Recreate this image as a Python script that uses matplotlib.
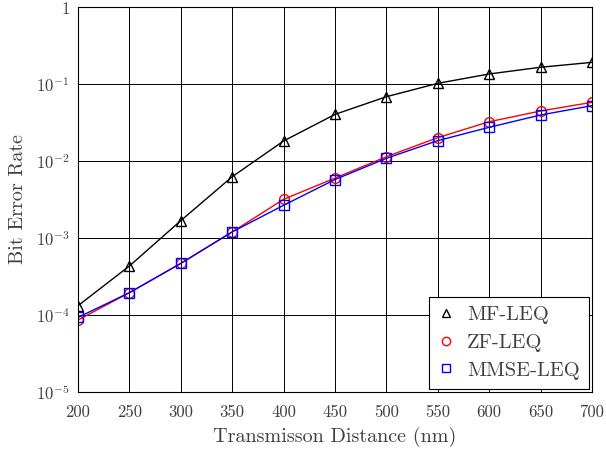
import matplotlib
matplotlib.use("Agg")
import matplotlib.pyplot as plt

plt.rcParams['font.family'] = 'serif'
plt.rcParams['font.serif'] = ['cmr10', 'DejaVu Serif']
plt.rcParams['mathtext.fontset'] = 'cm'
plt.rcParams['axes.formatter.use_mathtext'] = True
plt.rcParams['axes.unicode_minus'] = False

distance = [200, 250, 300, 350, 400, 450, 500, 550, 600, 650, 700]
mf_leq = [1.32e-4, 4.33e-4, 1.68e-3, 6.25e-3, 1.82e-2, 4.03e-2, 6.84e-2, 0.102, 0.135, 0.165, 0.191]
zf_leq = [8.6e-5, 1.95e-4, 4.68e-4, 1.2e-3, 3.18e-3, 6.0e-3, 1.138e-2, 2.01e-2, 3.24e-2, 4.46e-2, 5.78e-2]
mmse_leq = [9.3e-5, 1.95e-4, 4.68e-4, 1.2e-3, 2.66e-3, 5.75e-3, 1.083e-2, 1.84e-2, 2.74e-2, 3.96e-2, 5.23e-2]
xticks = [200, 250, 300, 350, 400, 450, 500, 550, 600, 650, 700]
yticks = [1e-5, 1e-4, 1e-3, 1e-2, 1e-1, 1]
ytick_labels = [r'$10^{-5}$', r'$10^{-4}$', r'$10^{-3}$', r'$10^{-2}$', r'$10^{-1}$', r'$1$']

fig = plt.figure(figsize=(6.06, 4.55), dpi=100)
ax = fig.add_axes([78/606, 1 - 392/455, (592-78)/606, (392-7)/455])

ax.plot(distance, mf_leq, color='black', lw=1.0, marker='^', ms=7, mfc='none', mec='black', mew=1.0, label='MF-LEQ')
ax.plot(distance, zf_leq, color='red', lw=1.0, marker='o', ms=7, mfc='none', mec='red', mew=1.0, label='ZF-LEQ')
ax.plot(distance, mmse_leq, color='blue', lw=1.0, marker='s', ms=7, mfc='none', mec='blue', mew=1.0, label='MMSE-LEQ')

ax.set_yscale('log')
ax.set_xlim(200, 700)
ax.set_ylim(1e-5, 1)
ax.set_xticks(xticks)
ax.set_xticklabels([str(v) for v in xticks])
ax.set_yticks(yticks)
ax.set_yticklabels(ytick_labels)
ax.minorticks_off()
ax.grid(True, color='black', lw=0.7)
ax.tick_params(direction='in', length=0, labelsize=12, labelcolor='#404040')
ax.tick_params(axis='x', pad=9)
ax.tick_params(axis='y', pad=6)
for s in ax.spines.values():
    s.set_linewidth(0.8)

ax.set_xlabel('Transmisson Distance (nm)', fontsize=14.5, color='#404040', labelpad=5)
ax.set_ylabel('Bit Error Rate', fontsize=14.5, color='#404040', labelpad=6)

leg = ax.legend(loc='lower right', fontsize=14.8, frameon=True, fancybox=False,
                edgecolor='black', framealpha=1, borderaxespad=0.15,
                handlelength=0.8, handletextpad=0.6, labelspacing=0.45, borderpad=0.45)
for h in leg.legend_handles:
    h.set_linestyle('none')
    h.set_markersize(6)
for t in leg.get_texts():
    t.set_color('#404040')
leg.get_frame().set_linewidth(0.8)

fig.savefig('out.png', dpi=100)
